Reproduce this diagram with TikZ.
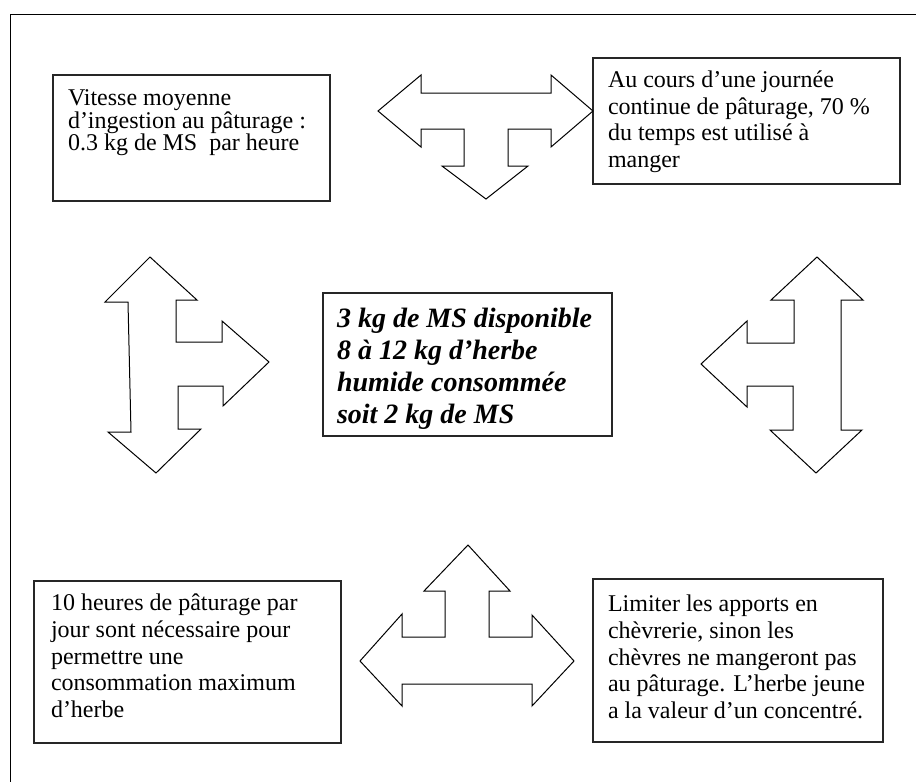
\documentclass[tikz,border=0pt]{standalone}
\usepackage{fontspec}
\setmainfont{Liberation Serif}
\begin{document}
\begin{tikzpicture}[x=1pt,y=-1pt,
  boxframe/.style={draw=black!85, line width=1.3pt, inner sep=0pt, outer sep=0pt, anchor=north west},
  txt/.style={anchor=north west, inner sep=0pt, outer sep=0pt, align=left},
  blockarrow/.style={draw=black, line width=1pt, fill=white, line join=miter}]
\useasboundingbox (0,0) rectangle (916,782);
% outer frame (top and left sides only visible)
\coordinate (fa) at (10,782);
\coordinate (fb) at (10,14);
\coordinate (fc) at (916,14);
\draw[line width=1pt] (fa) -- (fb) -- (fc);

% boxes
\node[boxframe, minimum width=277pt, minimum height=126pt] (b1) at (53,75) {};
\node[boxframe, minimum width=307pt, minimum height=126pt] (b2) at (593,58) {};
\node[boxframe, minimum width=289pt, minimum height=143pt] (b3) at (323,293) {};
\node[boxframe, minimum width=307pt, minimum height=162pt] (b4) at (34,581) {};
\node[boxframe, minimum width=290pt, minimum height=163pt] (b5) at (593,579) {};

% texts
\node[txt, font=\fontsize{24}{22.5}\selectfont] (t1) at (68,90)
  {Vitesse moyenne\\d’ingestion au pâturage :\\0.3 kg de MS\ \ par heure};
\node[txt, font=\fontsize{24}{26.5}\selectfont] (t2) at (608,71)
  {Au cours d’une journée\\continue de pâturage, 70 \%\\du temps est utilisé à\\manger};
\node[txt, font=\fontsize{28}{32}\selectfont\bfseries\itshape] (t3) at (337,308)
  {3 kg de MS disponible\\8 à 12 kg d’herbe\\humide consommée\\soit 2 kg de MS};
\node[txt, font=\fontsize{24}{26.7}\selectfont] (t4) at (51,594)
  {10 heures de pâturage par\\jour sont nécessaire pour\\permettre une\\consommation maximum\\d’herbe};
\node[txt, font=\fontsize{24}{26.7}\selectfont] (t5) at (608,595)
  {Limiter les apports en\\chèvrerie, sinon les\\chèvres ne mangeront pas\\au pâturage. L’herbe jeune\\a la valeur d’un concentré.};

% top block arrow (left, right, down)
\draw[blockarrow] (378,111) -- (421,75) -- (421,93) -- (551,93) -- (551,75) -- (593,111)
  -- (551,147) -- (551,129) -- (508,129) -- (508,166) -- (528,166) -- (486,199)
  -- (442,166) -- (464,166) -- (464,129) -- (421,129) -- (421,147) -- cycle;

% left block arrow (up, down, right)
\draw[blockarrow] (150,257) -- (197,300) -- (176,300) -- (176,342) -- (222,342) -- (222,321)
  -- (269,362) -- (223,406) -- (223,386) -- (178,386) -- (178,429) -- (201,429)
  -- (156,473) -- (108,432) -- (131,432) -- (128,302) -- (105,302) -- cycle;

% right block arrow (up, down, left)
\draw[blockarrow] (817,257) -- (863,300) -- (841,300) -- (841,430) -- (862,430) -- (816,473)
  -- (770,430) -- (793,430) -- (793,386) -- (747,386) -- (747,407) -- (701,364)
  -- (747,321) -- (747,343) -- (794,343) -- (794,300) -- (771,300) -- cycle;

% bottom block arrow (up, left, right)
\draw[blockarrow] (468,545) -- (510,591) -- (489,591) -- (489,637) -- (532,637) -- (532,615)
  -- (574,661) -- (532,706) -- (532,684) -- (402,684) -- (402,706) -- (360,661)
  -- (402,614) -- (402,637) -- (445,637) -- (445,591) -- (424,591) -- cycle;
\end{tikzpicture}
\end{document}
